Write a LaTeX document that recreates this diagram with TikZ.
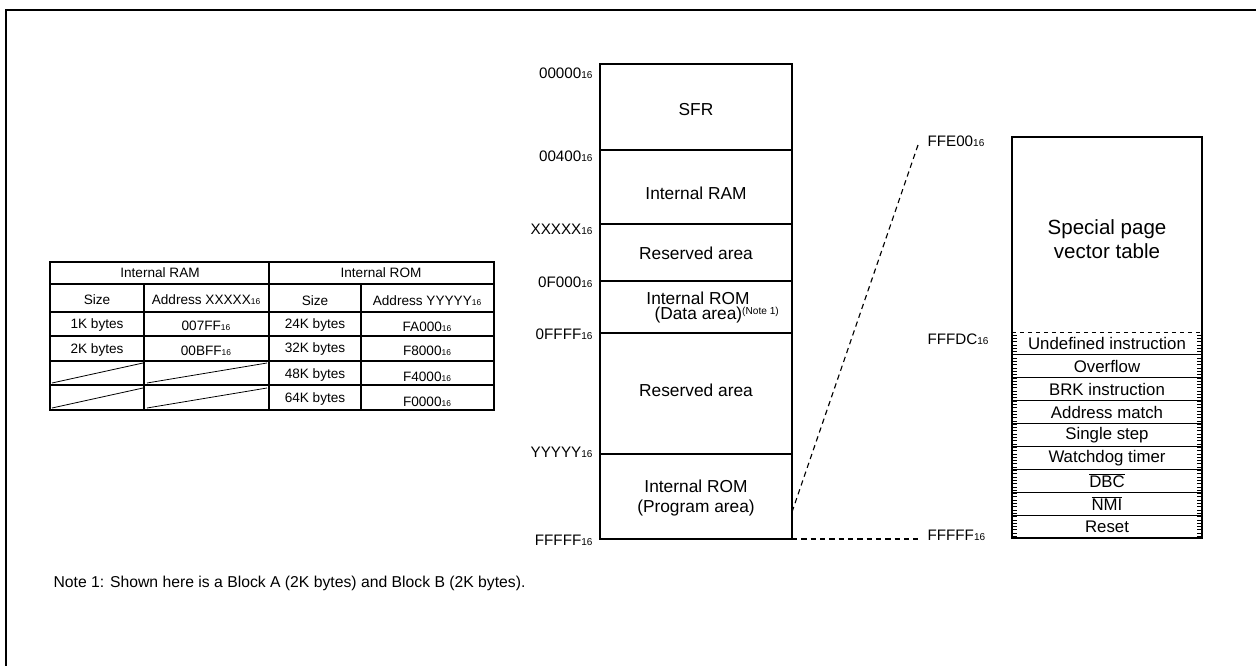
\documentclass[tikz,border=0pt]{standalone}
\usepackage{fontspec}
\setmainfont{Liberation Sans}
\newcommand{\hexa}[1]{#1{\fontsize{7.5}{8}\selectfont 16}}
\newcommand{\hexb}[1]{#1{\fontsize{6.3}{7}\selectfont 16}}

\begin{document}
\begin{tikzpicture}[x=0.75pt,y=-0.75pt,line width=0.85pt,
	addr/.style={inner sep=0pt,font=\fontsize{11.4}{13}\selectfont},
	blk/.style={inner sep=0pt,align=center,font=\fontsize{13}{15.5}\selectfont},
	vec/.style={inner sep=0pt,font=\fontsize{12.6}{14}\selectfont},
	tab/.style={inner sep=0pt,font=\fontsize{10.2}{12}\selectfont},
	zoomline/.style={line width=0.85pt,dash pattern=on 4pt off 3pt}]
	\useasboundingbox (0,0) rectangle (1256,666);
	\draw[line width=1.6pt] (6,666) -- (6,10) -- (1256,10);

	% size table
	\draw (50,262) rectangle (494,410);
	\draw (269,262) -- (269,410);
	\draw (144,284) -- (144,410);
	\draw (361,284) -- (361,410);
	\foreach \y in {284,312,336,361,385}
		\draw (50,\y) -- (494,\y);
	\foreach \y in {0,25} {
		\draw[line width=0.6pt] (52,383+\y) -- (143,363+\y);
		\draw[line width=0.6pt] (147,383+\y) -- (267,363+\y);
	}
	\node[tab] (hram) at (160,273) {Internal RAM};
	\node[tab] (hrom) at (381,273) {Internal ROM};
	\node[tab] (s1) at (97,300) {Size};
	\node[tab] (s2) at (206,300) {Address \hexb{XXXXX}};
	\node[tab] (s3) at (315,301) {Size};
	\node[tab] (s4) at (427,301) {Address \hexb{YYYYY}};
	\node[tab] (r1a) at (97,325) {1K bytes};
	\node[tab] (r1b) at (206,326) {\hexb{007FF}};
	\node[tab] (r2a) at (97,350) {2K bytes};
	\node[tab] (r2b) at (206,351) {\hexb{00BFF}};
	\node[tab] (o1a) at (315,325) {24K bytes};
	\node[tab] (o1b) at (427,327) {\hexb{FA000}};
	\node[tab] (o2a) at (315,349) {32K bytes};
	\node[tab] (o2b) at (427,351) {\hexb{F8000}};
	\node[tab] (o3a) at (315,375) {48K bytes};
	\node[tab] (o3b) at (427,377) {\hexb{F4000}};
	\node[tab] (o4a) at (315,399) {64K bytes};
	\node[tab] (o4b) at (427,402) {\hexb{F0000}};

	% memory map
	\draw (600,64) rectangle (792,539);
	\foreach \y in {150,224,281,333,454}
		\draw (600,\y) -- (792,\y);
	\node[addr,anchor=east] (a1) at (593,73) {\hexa{00000}};
	\node[addr,anchor=east] (a2) at (593,156) {\hexa{00400}};
	\node[addr,anchor=east] (a3) at (593,229) {\hexa{XXXXX}};
	\node[addr,anchor=east] (a4) at (593,282) {\hexa{0F000}};
	\node[addr,anchor=east] (a5) at (593,334) {\hexa{0FFFF}};
	\node[addr,anchor=east] (a6) at (593,452) {\hexa{YYYYY}};
	\node[addr,anchor=east] (a7) at (593,540) {\hexa{FFFFF}};
	\node[blk] (sfr) at (696,110) {SFR};
	\node[blk] (iram) at (696,193) {Internal RAM};
	\node[blk] (rsv1) at (696,253) {Reserved area};
	\node[blk] (drom) at (698,298) {Internal ROM};
	\node[blk,anchor=west] (ddat) at (654,315) {(Data area)\raisebox{0.55ex}{\fontsize{7.6}{8}\selectfont(Note 1)}};
	\node[blk] (rsv2) at (696,390) {Reserved area};
	\node[blk] (prom) at (696,498) {Internal ROM\\(Program area)};

	% special page vector table
	\draw (1012,137) rectangle (1202,538);
	\draw[dashed,line width=0.7pt] (1012,332) -- (1202,332);
	\foreach \i in {1,...,8}
		\draw (1012,{332+22.9*\i}) -- (1202,{332+22.9*\i});
	\foreach \y in {335,338.3,...,537} {
		\draw[line width=0.45pt] (1012,\y) -- (1017,\y);
		\draw[line width=0.45pt] (1197,\y) -- (1202,\y);
	}
	\node[inner sep=0pt,align=center,font=\fontsize{15.4}{17.5}\selectfont] (spv) at (1107,239) {Special page\\vector table};
	\foreach \t [count=\i] in {Undefined instruction,Overflow,BRK instruction,Address match,Single step,Watchdog timer,$\overline{\mbox{DBC}}$,$\overline{\mbox{NMI}}$,Reset}
		\node[vec] (v\i) at (1107,{332+22.9*(\i-0.5)}) {\t};
	\node[addr,anchor=west] (b1) at (927,141) {\hexa{FFE00}};
	\node[addr,anchor=west] (b2) at (927,339) {\hexa{FFFDC}};
	\node[addr,anchor=west] (b3) at (927,535) {\hexa{FFFFF}};

	% zoom lines
	\coordinate (pa) at (792,512);
	\coordinate (fe) at (918,145);
	\coordinate (mb) at (792,539);
	\coordinate (vb) at (918,539);
	\draw[zoomline] (pa) -- (fe);
	\draw[zoomline] (mb) -- (vb);

	\node[anchor=west,inner sep=0pt,font=\fontsize{11.8}{14}\selectfont] (note) at (53,583) {Note 1: Shown here is a Block A (2K bytes) and Block B (2K bytes).};
\end{tikzpicture}
\end{document}
